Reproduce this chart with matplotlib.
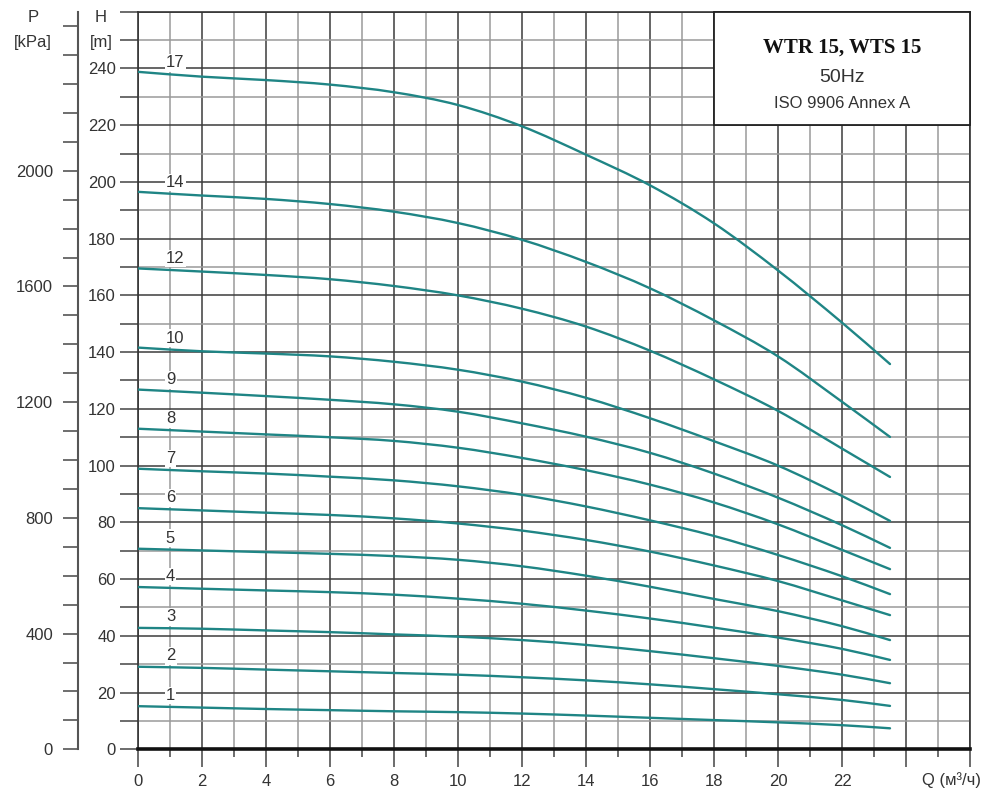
import numpy as np
import matplotlib
matplotlib.use('Agg')
import matplotlib.pyplot as plt
from matplotlib.patches import Rectangle, PathPatch
from matplotlib.path import Path
from matplotlib.ticker import MultipleLocator, FuncFormatter

plt.rcParams['font.family'] = ['Liberation Sans', 'DejaVu Sans']

# ---- data ----
Q = [0, 2, 4, 6, 8, 10, 12, 14, 16, 18, 20, 22, 23.5]
stages = ['17', '14', '12', '10', '9', '8', '7', '6', '5', '4', '3', '2', '1']
H17 = [238.8, 237.1, 235.9, 234.3, 231.6, 227.1, 219.6, 209.6, 198.8, 185.4, 168.8, 150.4, 135.8]
H14 = [196.5, 195.2, 194.0, 192.2, 189.5, 185.5, 179.6, 171.8, 162.5, 151.2, 138.5, 122.5, 110.1]
H12 = [169.5, 168.4, 167.2, 165.7, 163.3, 160.0, 155.3, 149.0, 140.5, 130.4, 119.3, 106.0, 96.0]
H10 = [141.6, 140.3, 139.5, 138.5, 136.6, 133.8, 129.6, 123.9, 116.7, 108.6, 100.0, 89.3, 80.5]
H9 = [126.8, 125.7, 124.5, 123.2, 121.6, 119.0, 114.9, 110.2, 104.5, 97.2, 88.7, 79.0, 71.0]
H8 = [113.0, 112.0, 111.0, 110.0, 108.7, 106.3, 102.7, 98.4, 93.3, 87.0, 79.3, 70.3, 63.5]
H7 = [98.9, 98.0, 97.2, 96.1, 94.8, 92.7, 89.7, 85.6, 80.7, 75.2, 68.5, 61.0, 54.7]
H6 = [85.0, 84.2, 83.4, 82.6, 81.4, 79.6, 77.1, 73.8, 69.7, 64.8, 59.3, 52.5, 47.3]
H5 = [70.7, 70.1, 69.5, 68.9, 68.1, 66.8, 64.5, 61.2, 57.3, 53.0, 48.7, 43.4, 38.5]
H4 = [57.2, 56.6, 56.0, 55.4, 54.5, 53.1, 51.3, 48.9, 46.1, 42.9, 39.4, 35.4, 31.5]
H3 = [42.8, 42.5, 41.9, 41.3, 40.5, 39.7, 38.5, 36.8, 34.6, 32.1, 29.4, 26.3, 23.3]
H2 = [29.1, 28.7, 28.1, 27.5, 26.9, 26.3, 25.4, 24.3, 22.9, 21.2, 19.4, 17.4, 15.3]
H1 = [15.2, 14.7, 14.2, 13.8, 13.4, 13.1, 12.6, 11.9, 11.1, 10.3, 9.5, 8.5, 7.4]
curves = [H17, H14, H12, H10, H9, H8, H7, H6, H5, H4, H3, H2, H1]

x_labels = ['0', '2', '4', '6', '8', '10', '12', '14', '16', '18', '20', '22', '', '']
title_lines = ['WTR 15, WTS 15', '50Hz', 'ISO 9906 Annex A']

KPA_PER_M = 9.80665
TXT = '#333333'
CURVE = '#1f8585'


def smooth_path(xs, ys):
    """Cubic Hermite (Bezier) path passing through every data point."""
    x = np.asarray(xs, float)
    y = np.asarray(ys, float)
    n = len(x)
    m = np.empty(n)
    m[0] = (y[1] - y[0]) / (x[1] - x[0])
    m[-1] = (y[-1] - y[-2]) / (x[-1] - x[-2])
    for i in range(1, n - 1):
        m[i] = (y[i + 1] - y[i - 1]) / (x[i + 1] - x[i - 1])
    verts = [(x[0], y[0])]
    codes = [Path.MOVETO]
    for i in range(n - 1):
        h = x[i + 1] - x[i]
        verts += [(x[i] + h / 3, y[i] + m[i] * h / 3),
                  (x[i + 1] - h / 3, y[i + 1] - m[i + 1] * h / 3),
                  (x[i + 1], y[i + 1])]
        codes += [Path.CURVE4] * 3
    return Path(verts, codes)


W, Hpx = 1001, 792
fig = plt.figure(figsize=(W / 100, Hpx / 100), dpi=100)

bottom_px = 749.3
top_px = 11.7
ax = fig.add_axes([138 / W, 1 - bottom_px / Hpx, 832 / W, (bottom_px - top_px) / Hpx])
ax.set_xlim(0, 26)
ax.set_ylim(0, 260)

# grid
ax.xaxis.set_major_locator(MultipleLocator(2))
ax.xaxis.set_minor_locator(MultipleLocator(1))
ax.yaxis.set_major_locator(MultipleLocator(20))
ax.yaxis.set_minor_locator(MultipleLocator(10))
ax.grid(which='major', color='#3c3c3c', lw=1.1, zorder=1)
ax.grid(which='minor', color='#9a9a9a', lw=1.1, zorder=1)
ax.set_axisbelow(True)

ax.xaxis.set_major_formatter(FuncFormatter(
    lambda v, p: x_labels[int(round(v / 2))] if 0 <= int(round(v / 2)) < len(x_labels) else ''))
ax.yaxis.set_major_formatter(FuncFormatter(lambda v, p: '' if v > 245 else f'{int(v)}'))

ax.tick_params(axis='x', which='both', direction='out', length=6, width=1.1, color='#444444',
               labelsize=12, labelcolor=TXT, pad=12)
ax.tick_params(axis='y', which='both', direction='out', length=13, width=1.1, color='#444444',
               labelsize=12, labelcolor=TXT, pad=3)
for t in ax.xaxis.get_major_ticks():
    if abs(t.get_loc()) < 1e-6 or abs(t.get_loc() - 26) < 1e-6:
        t.tick1line.set_markersize(13)

for s in ['left', 'top', 'right']:
    ax.spines[s].set_color('#333333')
    ax.spines[s].set_linewidth(1.2)
ax.spines['bottom'].set_color('#111111')
ax.spines['bottom'].set_linewidth(2.6)

# curves
for lab, h in zip(stages, curves):
    ax.add_patch(PathPatch(smooth_path(Q, h), facecolor='none', edgecolor=CURVE, lw=1.7,
                           capstyle='round', zorder=3))
    ax.text(0.87, np.interp(1.0, Q, h) + 4.0, lab, ha='left', va='center', fontsize=12,
            color=TXT, zorder=4,
            bbox=dict(boxstyle='square,pad=0.08', fc='white', ec='none'))

# title box
ax.add_patch(Rectangle((18, 220), 8, 40, facecolor='white', edgecolor='#222222', lw=1.3,
                       zorder=5, clip_on=False))
ax.text(22, 247.3, title_lines[0], ha='center', va='center', fontsize=15, fontweight='bold',
        family=['Liberation Serif', 'DejaVu Serif'], color='#111111', zorder=6)
ax.text(22, 236.7, title_lines[1], ha='center', va='center', fontsize=14, color=TXT, zorder=6)
ax.text(22, 227.8, title_lines[2], ha='center', va='center', fontsize=12, color=TXT, zorder=6)

# P axis (kPa)
axp = fig.add_axes([78 / W, 1 - bottom_px / Hpx, 0.0001, (bottom_px - top_px) / Hpx])
axp.set_ylim(0, 260 * KPA_PER_M)
axp.patch.set_visible(False)
for s in ['right', 'top', 'bottom']:
    axp.spines[s].set_visible(False)
axp.spines['left'].set_color('#555555')
axp.spines['left'].set_linewidth(1.5)
axp.set_xticks([])
axp.yaxis.set_major_locator(MultipleLocator(400))
axp.yaxis.set_minor_locator(MultipleLocator(100))
axp.yaxis.set_major_formatter(FuncFormatter(lambda v, p: '' if v > 2200 else f'{int(v)}'))
axp.tick_params(axis='y', which='both', direction='out', length=11, width=1.2, color='#555555',
                labelsize=12, labelcolor=TXT, pad=7)

# axis headers
fig.text(33 / W, 1 - 18 / Hpx, 'P', ha='center', va='center', fontsize=12, color=TXT)
fig.text(33 / W, 1 - 42 / Hpx, '[kPa]', ha='center', va='center', fontsize=12, color=TXT)
fig.text(101 / W, 1 - 18 / Hpx, 'H', ha='center', va='center', fontsize=12, color=TXT)
fig.text(101 / W, 1 - 42 / Hpx, '[m]', ha='center', va='center', fontsize=12, color=TXT)
fig.text(952 / W, 1 - 780 / Hpx, 'Q (м³/ч)', ha='center', va='center', fontsize=12, color=TXT)

fig.savefig('out.png', dpi=100, facecolor='white')
